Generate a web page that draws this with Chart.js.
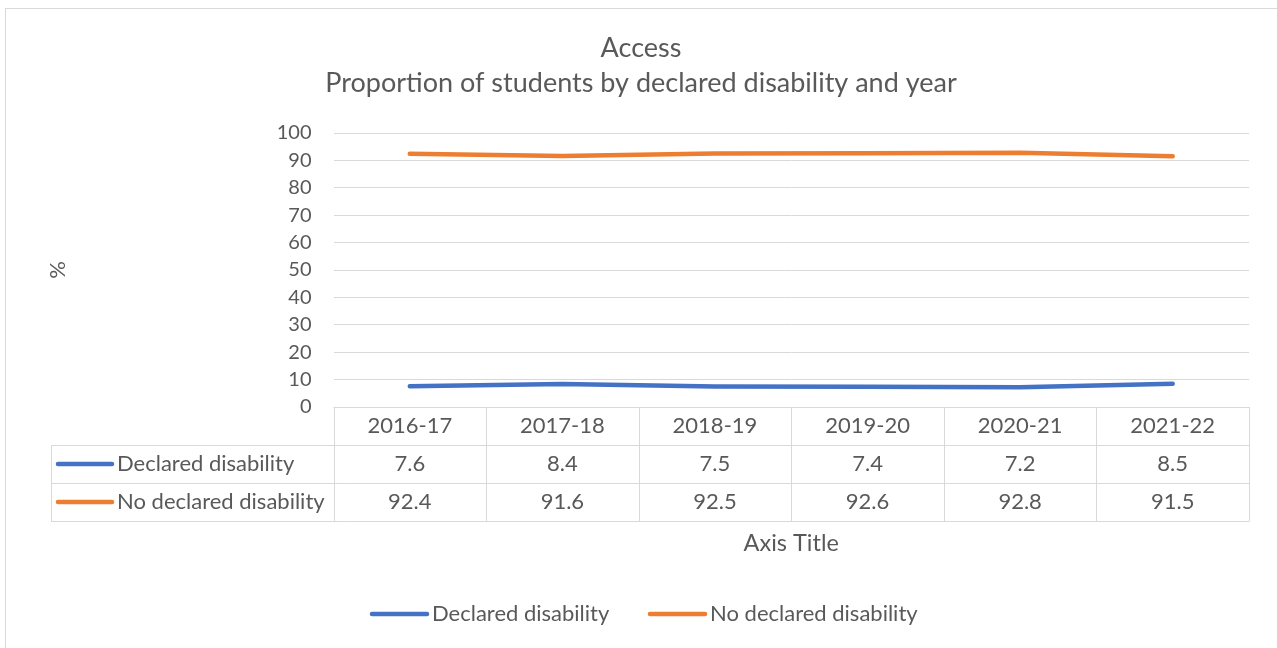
<!DOCTYPE html>
<html>
<head>
<meta charset="utf-8">
<script src="https://cdn.jsdelivr.net/npm/chart.js@4.4.1/dist/chart.umd.min.js"></script>
<style>
  html, body { margin: 0; padding: 0; background: #fff; }
  canvas { display: block; }
</style>
</head>
<body>
<canvas id="accessChart" width="1277" height="648"></canvas>
<script>
const years = ['2016-17', '2017-18', '2018-19', '2019-20', '2020-21', '2021-22']
const declared = [7.6, 8.4, 7.5, 7.4, 7.2, 8.5]
const notDeclared = [92.4, 91.6, 92.5, 92.6, 92.8, 91.5]
const seriesNames = ['Declared disability', 'No declared disability']
const seriesColors = ['#4472C4', '#ED7D31']
const titleLines = ['Access', 'Proportion of students by declared disability and year']

const textColor = '#595959'
const lineGrey = '#D9D9D9'
const fontFamily = 'Lato, "Open Sans", sans-serif'
const font = (size) => `${size}px ${fontFamily}`

// line key, used both in the table and in the bottom legend
function drawKey(ctx, x1, x2, y, color) {
    ctx.save()
    ctx.strokeStyle = color
    ctx.lineWidth = 4.5
    ctx.lineCap = 'round'
    ctx.beginPath()
    ctx.moveTo(x1, y)
    ctx.lineTo(x2, y)
    ctx.stroke()
    ctx.restore()
}

const frame = {
    id: 'frame',
    beforeDraw(chart) {
        const ctx = chart.ctx
        ctx.save()
        ctx.fillStyle = '#fff'
        ctx.fillRect(0, 0, chart.width, chart.height)
        ctx.strokeStyle = lineGrey
        ctx.lineWidth = 1
        ctx.strokeRect(5.5, 8.5, chart.width + 20, chart.height + 20)
        ctx.restore()
    }
}

const titleAndTable = {
    id: 'titleAndTable',
    afterDraw(chart) {
        const ctx = chart.ctx
        const xs = chart.scales.x
        const area = chart.chartArea
        const colW = (area.right - area.left) / years.length
        const rowH = 38
        const top = area.bottom
        const leftCol = 51

        ctx.save()
        ctx.fillStyle = textColor
        ctx.textBaseline = 'middle'

        // titles
        ctx.textAlign = 'center'
        ctx.font = font(27)
        ctx.fillText(titleLines[0], 641, 48)
        ctx.fillText(titleLines[1], 641, 83)

        // table grid
        ctx.strokeStyle = lineGrey
        ctx.lineWidth = 1
        ctx.beginPath()
        ctx.moveTo(area.left, top + 0.5)
        ctx.lineTo(area.right, top + 0.5)
        for (let r = 1; r <= 3; r++) {
            const y = Math.round(top + r * rowH) + 0.5
            ctx.moveTo(leftCol, y)
            ctx.lineTo(area.right, y)
        }
        ctx.moveTo(leftCol + 0.5, top + rowH)
        ctx.lineTo(leftCol + 0.5, top + 3 * rowH + 0.5)
        for (let i = 0; i <= years.length; i++) {
            const x = Math.round(area.left + i * colW) + 0.5
            ctx.moveTo(x, top)
            ctx.lineTo(x, top + 3 * rowH + 0.5)
        }
        ctx.stroke()

        // table text
        ctx.font = font(22)
        const rows = [declared, notDeclared]
        years.forEach((yr, i) => {
            const cx = xs.getPixelForValue(i)
            ctx.textAlign = 'center'
            ctx.fillText(yr, cx, top + rowH * 0.5)
            rows.forEach((vals, r) => {
                ctx.fillText(vals[i].toFixed(1), cx, top + rowH * (r + 1.5))
            })
        })
        seriesNames.forEach((name, r) => {
            const y = top + rowH * (r + 1.5)
            drawKey(ctx, 58, 112, y, seriesColors[r])
            ctx.fillStyle = textColor
            ctx.textAlign = 'left'
            ctx.fillText(name, 117, y)
        })

        // legend
        const legendY = 614
        const keyStarts = [372, 650]
        seriesNames.forEach((name, r) => {
            const x = keyStarts[r]
            drawKey(ctx, x, x + 55, legendY, seriesColors[r])
            ctx.fillStyle = textColor
            ctx.textAlign = 'left'
            ctx.fillText(name, x + 60, legendY)
        })

        // horizontal axis title
        ctx.font = font(23.5)
        ctx.textAlign = 'center'
        ctx.fillText('Axis Title', (area.left + area.right) / 2, 543)
        ctx.restore()
    }
}

new Chart(document.getElementById('accessChart'), {
    type: 'line',
    data: {
        labels: years,
        datasets: [
            {
                label: seriesNames[0],
                data: declared,
                borderColor: seriesColors[0],
                borderWidth: 4.5,
                borderCapStyle: 'round',
                borderJoinStyle: 'round',
                pointRadius: 0,
                tension: 0
            },
            {
                label: seriesNames[1],
                data: notDeclared,
                borderColor: seriesColors[1],
                borderWidth: 4.5,
                borderCapStyle: 'round',
                borderJoinStyle: 'round',
                pointRadius: 0,
                tension: 0
            }
        ]
    },
    options: {
        responsive: false,
        animation: false,
        layout: {
            padding: { top: 133, bottom: 241, left: 45, right: 28 }
        },
        plugins: {
            legend: { display: false },
            title: { display: false },
            tooltip: { enabled: false }
        },
        scales: {
            x: {
                display: false,
                offset: true
            },
            y: {
                min: 0,
                max: 100,
                afterFit(scale) {
                    scale.width = 288.5
                },
                ticks: {
                    stepSize: 10,
                    padding: 22,
                    color: textColor,
                    font: { family: fontFamily, size: 20 }
                },
                grid: {
                    color: lineGrey,
                    lineWidth: 1,
                    drawTicks: false
                },
                border: { display: false },
                title: {
                    display: true,
                    text: '%',
                    color: textColor,
                    padding: 0,
                    font: { family: fontFamily, size: 22 }
                }
            }
        }
    },
    plugins: [frame, titleAndTable]
})
</script>
</body>
</html>
